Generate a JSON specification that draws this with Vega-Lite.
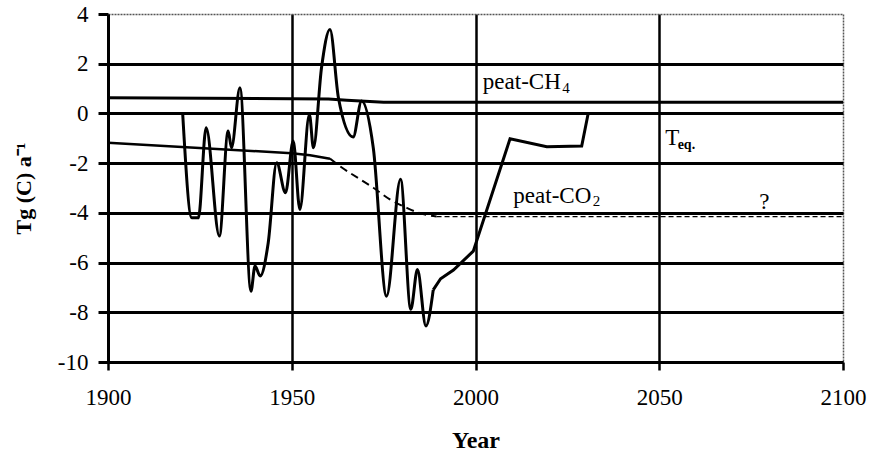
{
  "$schema": "https://vega.github.io/schema/vega-lite/v6.json",
  "width": 735,
  "height": 348,
  "autosize": {"type": "none"},
  "padding": {"left": 108, "top": 14, "right": 27, "bottom": 91},
  "background": "white",
  "config": {"view": {"stroke": null}, "font": "Liberation Serif"},
  "datasets": {
    "lines": [
      {"series": "Teq1", "year": 1920.3, "value": 0.05},
      {"series": "Teq1", "year": 1922.8, "value": -4.2},
      {"series": "Teq1", "year": 1924.6, "value": -4.2},
      {"series": "Teq1", "year": 1926.7, "value": -0.58},
      {"series": "Teq1", "year": 1930.3, "value": -4.93},
      {"series": "Teq1", "year": 1932.7, "value": -0.71},
      {"series": "Teq1", "year": 1933.6, "value": -1.38},
      {"series": "Teq1", "year": 1935.9, "value": 1.03},
      {"series": "Teq1", "year": 1938.9, "value": -7.15},
      {"series": "Teq1", "year": 1940.0, "value": -6.14},
      {"series": "Teq1", "year": 1941.4, "value": -6.54},
      {"series": "Teq1", "year": 1943.6, "value": -5.2},
      {"series": "Teq1", "year": 1945.9, "value": -1.98},
      {"series": "Teq1", "year": 1948.3, "value": -3.19},
      {"series": "Teq1", "year": 1950.4, "value": -1.11},
      {"series": "Teq1", "year": 1952.2, "value": -3.86},
      {"series": "Teq1", "year": 1954.8, "value": -0.04},
      {"series": "Teq1", "year": 1955.9, "value": -1.38},
      {"series": "Teq1", "year": 1958.1, "value": 1.84},
      {"series": "Teq1", "year": 1960.4, "value": 3.38},
      {"series": "Teq1", "year": 1962.7, "value": 0.63},
      {"series": "Teq1", "year": 1966.7, "value": -0.95},
      {"series": "Teq1", "year": 1969.0, "value": 0.5},
      {"series": "Teq1", "year": 1972.2, "value": -1.4},
      {"series": "Teq1", "year": 1975.8, "value": -7.35},
      {"series": "Teq1", "year": 1979.6, "value": -2.65},
      {"series": "Teq1", "year": 1982.4, "value": -7.88},
      {"series": "Teq1", "year": 1984.2, "value": -6.28},
      {"series": "Teq1", "year": 1986.5, "value": -8.55},
      {"series": "Teq1", "year": 1988.5, "value": -7.1},
      {"series": "Teq2", "year": 1988.5, "value": -7.1},
      {"series": "Teq2", "year": 1990.5, "value": -6.65},
      {"series": "Teq2", "year": 1994.0, "value": -6.3},
      {"series": "Teq2", "year": 1999.4, "value": -5.54},
      {"series": "Teq2", "year": 2009.4, "value": -1.02},
      {"series": "Teq2", "year": 2019.4, "value": -1.34},
      {"series": "Teq2", "year": 2028.9, "value": -1.31},
      {"series": "Teq2", "year": 2030.7, "value": 0.03},
      {"series": "CH4", "year": 1900, "value": 0.63},
      {"series": "CH4", "year": 1960, "value": 0.58},
      {"series": "CH4", "year": 1965, "value": 0.53},
      {"series": "CH4", "year": 1975, "value": 0.45},
      {"series": "CH4", "year": 2100, "value": 0.45},
      {"series": "CO2a", "year": 1900, "value": -1.18},
      {"series": "CO2a", "year": 1950, "value": -1.6},
      {"series": "CO2a", "year": 1955, "value": -1.68},
      {"series": "CO2a", "year": 1960.4, "value": -1.82},
      {"series": "CO2b", "year": 1960.4, "value": -1.82},
      {"series": "CO2b", "year": 1963.1, "value": -2.12},
      {"series": "CO2b", "year": 1972.2, "value": -2.99},
      {"series": "CO2b", "year": 1976.7, "value": -3.46},
      {"series": "CO2b", "year": 1981.3, "value": -3.8},
      {"series": "CO2b", "year": 1985.0, "value": -4.02},
      {"series": "CO2b", "year": 1989.4, "value": -4.15},
      {"series": "CO2c", "year": 1989.4, "value": -4.15},
      {"series": "CO2c", "year": 2100, "value": -4.15}
    ],
    "labels": [
      {"kind": "main", "text": "peat-CH", "year": 2002, "value": 0.97},
      {"kind": "sub", "text": "4", "year": 2023.6, "value": 0.83},
      {"kind": "main", "text": "T", "year": 2051.6, "value": -1.25},
      {"kind": "subb", "text": "eq.", "year": 2055.0, "value": -1.45},
      {"kind": "main", "text": "peat-CO", "year": 2010.3, "value": -3.59},
      {"kind": "sub", "text": "2", "year": 2031.9, "value": -3.73},
      {"kind": "main", "text": "?", "year": 2077.2, "value": -3.86}
    ]
  },
  "layer": [
    {
      "data": {"name": "lines"},
      "transform": [{"filter": "datum.series == 'Teq1'"}],
      "mark": {"type": "line", "interpolate": "monotone", "color": "black", "strokeWidth": 3},
      "encoding": {
        "x": {
          "field": "year", "type": "quantitative",
          "scale": {"domain": [1900, 2100], "nice": false, "zero": false},
          "axis": {
            "values": [1900, 1950, 2000, 2050, 2100],
            "format": "d",
            "title": "Year",
            "grid": true,
            "gridColor": {"condition": {"test": "datum.value == 2100", "value": "#555"}, "value": "black"},
            "gridWidth": {"condition": {"test": "datum.value == 2100", "value": 1.5}, "value": 2.5},
            "gridDash": {"condition": {"test": "datum.value == 2100", "value": [2, 1]}, "value": []},
            "gridOpacity": 1,
            "domainColor": "black", "domainWidth": 3,
            "tickColor": "black", "tickWidth": 2.5, "tickSize": 8,
            "labelFont": "Liberation Serif", "labelFontSize": 23, "labelColor": "black", "labelPadding": 16,
            "labelFlush": false, "labelOverlap": false,
            "titleFont": "Liberation Serif", "titleFontSize": 24, "titleFontWeight": "bold", "titleColor": "black", "titlePadding": 19
          }
        },
        "y": {
          "field": "value", "type": "quantitative",
          "scale": {"domain": [-10, 4], "nice": false, "zero": false},
          "axis": {
            "values": [-10, -8, -6, -4, -2, 0, 2, 4],
            "labelExpr": "'' + datum.value",
            "title": "Tg (C) a⁻¹",
            "grid": true,
            "gridColor": {"condition": {"test": "datum.value == 4", "value": "#555"}, "value": "black"},
            "gridWidth": {"condition": {"test": "datum.value == 4", "value": 1.5}, "value": 3},
            "gridDash": {"condition": {"test": "datum.value == 4", "value": [2, 1]}, "value": []},
            "gridOpacity": 1,
            "domainColor": "black", "domainWidth": 3,
            "tickColor": "black", "tickWidth": 3, "tickSize": 10,
            "labelFont": "Liberation Serif", "labelFontSize": 23, "labelColor": "black", "labelPadding": 10,
            "labelFlush": false, "labelOverlap": false,
            "titleFont": "Liberation Serif", "titleFontSize": 22, "titleFontWeight": "bold", "titleColor": "black", "titlePadding": 22
          }
        }
      }
    },
    {
      "data": {"name": "lines"},
      "transform": [{"filter": "datum.series == 'Teq2'"}],
      "mark": {"type": "line", "interpolate": "linear", "color": "black", "strokeWidth": 3},
      "encoding": {"x": {"field": "year", "type": "quantitative"}, "y": {"field": "value", "type": "quantitative"}}
    },
    {
      "data": {"name": "lines"},
      "transform": [{"filter": "datum.series == 'CH4'"}],
      "mark": {"type": "line", "interpolate": "linear", "color": "black", "strokeWidth": 3},
      "encoding": {"x": {"field": "year", "type": "quantitative"}, "y": {"field": "value", "type": "quantitative"}}
    },
    {
      "data": {"name": "lines"},
      "transform": [{"filter": "datum.series == 'CO2a'"}],
      "mark": {"type": "line", "interpolate": "linear", "color": "black", "strokeWidth": 2.5},
      "encoding": {"x": {"field": "year", "type": "quantitative"}, "y": {"field": "value", "type": "quantitative"}}
    },
    {
      "data": {"name": "lines"},
      "transform": [{"filter": "datum.series == 'CO2b'"}],
      "mark": {"type": "line", "interpolate": "monotone", "color": "black", "strokeWidth": 2, "strokeDash": [8, 5]},
      "encoding": {"x": {"field": "year", "type": "quantitative"}, "y": {"field": "value", "type": "quantitative"}}
    },
    {
      "data": {"name": "lines"},
      "transform": [{"filter": "datum.series == 'CO2c'"}],
      "mark": {"type": "line", "interpolate": "linear", "color": "black", "strokeWidth": 1.3, "strokeDash": [5, 3]},
      "encoding": {"x": {"field": "year", "type": "quantitative"}, "y": {"field": "value", "type": "quantitative"}}
    },
    {
      "data": {"name": "labels"},
      "transform": [{"filter": "datum.kind == 'main'"}],
      "mark": {"type": "text", "align": "left", "baseline": "alphabetic", "font": "Liberation Serif", "fontSize": 23, "color": "black"},
      "encoding": {"x": {"field": "year", "type": "quantitative"}, "y": {"field": "value", "type": "quantitative"}, "text": {"field": "text"}}
    },
    {
      "data": {"name": "labels"},
      "transform": [{"filter": "datum.kind == 'sub'"}],
      "mark": {"type": "text", "align": "left", "baseline": "alphabetic", "font": "Liberation Serif", "fontSize": 15, "color": "black"},
      "encoding": {"x": {"field": "year", "type": "quantitative"}, "y": {"field": "value", "type": "quantitative"}, "text": {"field": "text"}}
    },
    {
      "data": {"name": "labels"},
      "transform": [{"filter": "datum.kind == 'subb'"}],
      "mark": {"type": "text", "align": "left", "baseline": "alphabetic", "font": "Liberation Serif", "fontSize": 14, "fontWeight": "bold", "color": "black"},
      "encoding": {"x": {"field": "year", "type": "quantitative"}, "y": {"field": "value", "type": "quantitative"}, "text": {"field": "text"}}
    }
  ]
}
